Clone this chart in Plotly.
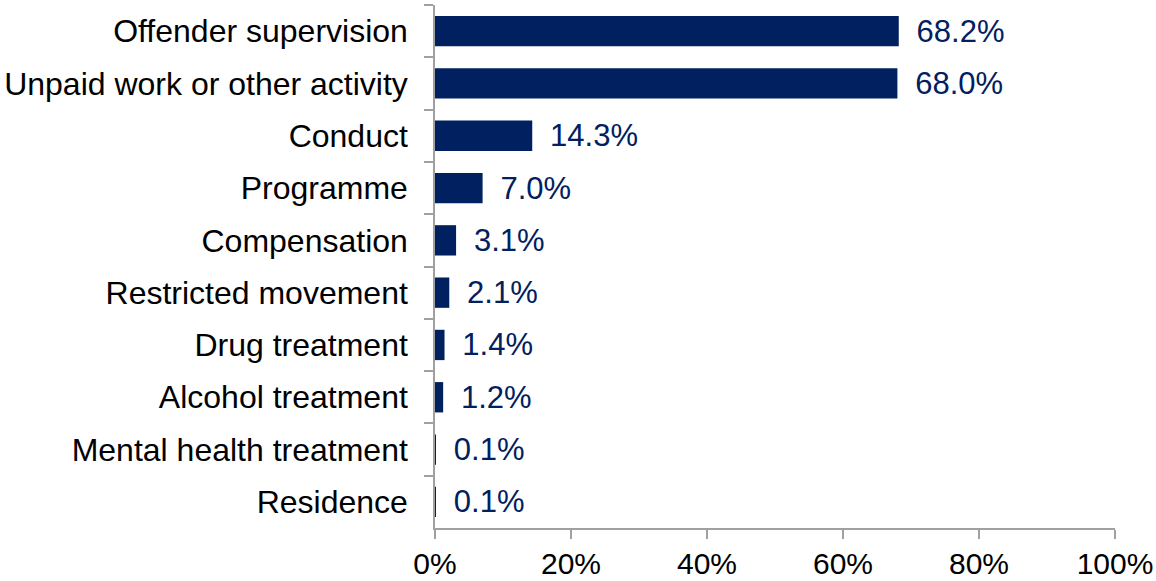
import plotly.graph_objects as go

categories = [
    "Offender supervision",
    "Unpaid work or other activity",
    "Conduct",
    "Programme",
    "Compensation",
    "Restricted movement",
    "Drug treatment",
    "Alcohol treatment",
    "Mental health treatment",
    "Residence",
]
values = [68.2, 68.0, 14.3, 7.0, 3.1, 2.1, 1.4, 1.2, 0.1, 0.1]
x_ticks = [0, 20, 40, 60, 80, 100]
x_tick_labels = ["0%", "20%", "40%", "60%", "80%", "100%"]

navy = "#002060"
axis_grey = "#A0A0A0"
font_family = "Liberation Sans, Arial, sans-serif"

fig = go.Figure()

fig.add_trace(go.Bar(
    x=values,
    y=categories,
    orientation="h",
    marker=dict(color=navy, line=dict(width=0)),
    text=[f"\u00a0\u2009{v:.1f}%" for v in values],
    textposition="outside",
    constraintext="none",
    textfont=dict(color=navy, size=31, family=font_family),
    cliponaxis=False,
    hoverinfo="x+y",
))

fig.update_layout(
    width=1156,
    height=581,
    margin=dict(l=435, r=41, t=5, b=53),
    paper_bgcolor="white",
    plot_bgcolor="white",
    bargap=0.42,
    showlegend=False,
    font=dict(family=font_family, size=32, color="black"),
    xaxis=dict(
        range=[0, 100],
        tickvals=x_ticks,
        ticktext=x_tick_labels,
        automargin=False,
        showgrid=False,
        zeroline=False,
        showline=True,
        linecolor=axis_grey,
        linewidth=1.5,
        ticks="outside",
        ticklen=9,
        tickcolor=axis_grey,
        tickwidth=1.5,
        ticklabelstandoff=-1,
        tickfont=dict(size=30, color="black"),
    ),
    yaxis=dict(
        type="category",
        categoryorder="array",
        categoryarray=categories,
        autorange="reversed",
        automargin=False,
        showgrid=False,
        zeroline=False,
        showline=True,
        linecolor=axis_grey,
        linewidth=1.5,
        ticks="outside",
        tickson="boundaries",
        ticklen=9,
        tickcolor=axis_grey,
        tickwidth=1.5,
        ticklabelstandoff=19,
        tickfont=dict(size=32, color="black"),
    ),
)

# drop the browser's default body margin so the figure sits at the page corner
fig.write_html(
    "out.html",
    config={"displayModeBar": False},
    post_script="document.body.style.margin='0px'; document.body.style.overflow='hidden';",
)
